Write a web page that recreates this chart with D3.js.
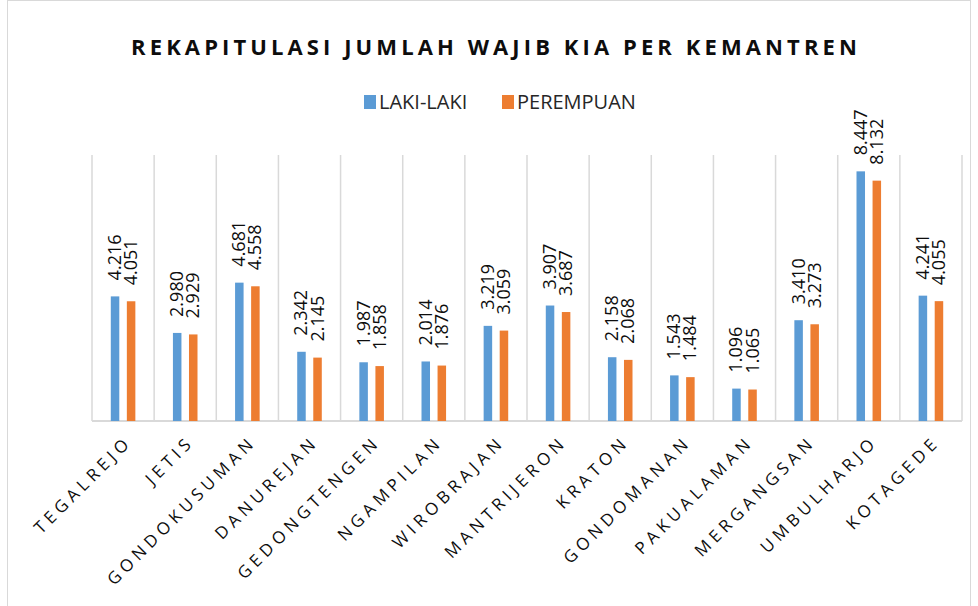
<!DOCTYPE html>
<html>
<head>
<meta charset="utf-8">
<script src="https://cdn.jsdelivr.net/npm/d3@7"></script>
<style>
  body { margin: 0; background: #fff; }
  svg { font-family: "Open Sans", "Noto Sans", sans-serif; }
</style>
</head>
<body>
<div id="chart-area"></div>
<script>
(() => {

  const categories = ['TEGALREJO', 'JETIS', 'GONDOKUSUMAN', 'DANUREJAN', 'GEDONGTENGEN',
    'NGAMPILAN', 'WIROBRAJAN', 'MANTRIJERON', 'KRATON', 'GONDOMANAN', 'PAKUALAMAN',
    'MERGANGSAN', 'UMBULHARJO', 'KOTAGEDE'];
  const lakiLaki = [4216, 2980, 4681, 2342, 1987, 2014, 3219, 3907, 2158, 1543, 1096, 3410, 8447, 4241];
  const perempuan = [4051, 2929, 4558, 2145, 1858, 1876, 3059, 3687, 2068, 1484, 1065, 3273, 8132, 4055];
  const seriesNames = ['LAKI-LAKI', 'PEREMPUAN'];
  const colors = ['#5b9bd5', '#ed7d31'];

  const width = 978;
  const height = 606;
  const margin = { left: 92, right: 16, top: 155, bottom: 185 };

  const fmt = d3.formatLocale({ decimal: ',', thousands: '.', grouping: [3], currency: ['', ''] }).format(',');

  const svg = d3.select('#chart-area').append('svg')
    .attr('width', width)
    .attr('height', height);

  // chart border
  svg.append('rect')
    .attr('x', 7.5).attr('y', 0.5)
    .attr('width', width - 15).attr('height', height + 10)
    .attr('fill', 'none')
    .attr('stroke', '#d9d9d9');

  const x = d3.scaleBand()
    .domain(categories)
    .range([margin.left, width - margin.right]);

  const x1 = d3.scaleBand()
    .domain(seriesNames)
    .range([0, x.bandwidth()])
    .paddingInner(0.47)
    .paddingOuter(1.17);

  const y = d3.scaleLinear()
    .domain([0, 9000])
    .range([height - margin.bottom, margin.top]);

  // title
  svg.append('text')
    .attr('x', 496)
    .attr('y', 55)
    .attr('text-anchor', 'middle')
    .attr('font-size', 22)
    .attr('font-weight', 'bold')
    .attr('letter-spacing', 4.1)
    .attr('fill', '#0d0d0d')
    .text('REKAPITULASI JUMLAH WAJIB KIA PER KEMANTREN');

  // legend
  const legendX = [364, 502];
  const legend = svg.selectAll('.legend')
    .data(seriesNames)
    .enter().append('g')
      .attr('transform', (d, i) => `translate(${legendX[i]}, 95)`);
  legend.append('rect')
    .attr('width', 12).attr('height', 14)
    .attr('fill', (d, i) => colors[i]);
  legend.append('text')
    .attr('x', 15).attr('y', 14)
    .attr('font-size', 20)
    .attr('fill', '#262626')
    .text(d => d);

  // vertical gridlines at category boundaries
  const bounds = categories.map(c => x(c)).concat([x.range()[1]]);
  svg.selectAll('.grid')
    .data(bounds)
    .enter().append('line')
      .attr('x1', d => d).attr('x2', d => d)
      .attr('y1', margin.top).attr('y2', y(0))
      .attr('stroke', '#d9d9d9')
      .attr('stroke-width', 1.5);

  // baseline
  svg.append('line')
    .attr('x1', x.range()[0]).attr('x2', x.range()[1])
    .attr('y1', y(0)).attr('y2', y(0))
    .attr('stroke', '#d9d9d9')
    .attr('stroke-width', 2);

  const series = [lakiLaki, perempuan];
  series.forEach((values, s) => {
    const g = svg.append('g');
    g.selectAll('rect')
      .data(values)
      .enter().append('rect')
        .attr('x', (d, i) => x(categories[i]) + x1(seriesNames[s]))
        .attr('y', d => y(d))
        .attr('width', x1.bandwidth())
        .attr('height', d => y(0) - y(d))
        .attr('fill', colors[s]);

    g.selectAll('text')
      .data(values)
      .enter().append('text')
        .attr('transform', (d, i) => {
          const cx = x(categories[i]) + x1(seriesNames[s]) + x1.bandwidth() / 2 + 6;
          return `translate(${cx}, ${y(d) - 16}) rotate(-90)`;
        })
        .attr('font-size', 18)
        .attr('fill', '#0d0d0d')
        .text(d => fmt(d));
  });

  // category labels
  svg.selectAll('.cat')
    .data(categories)
    .enter().append('text')
      .attr('transform', d => `translate(${x(d) + x.bandwidth() / 2 + 10}, ${y(0) + 22}) rotate(-45)`)
      .attr('text-anchor', 'end')
      .attr('font-size', 17)
      .attr('letter-spacing', 4.6)
      .attr('fill', '#0d0d0d')
      .text(d => d);

})();
</script>
</body>
</html>
